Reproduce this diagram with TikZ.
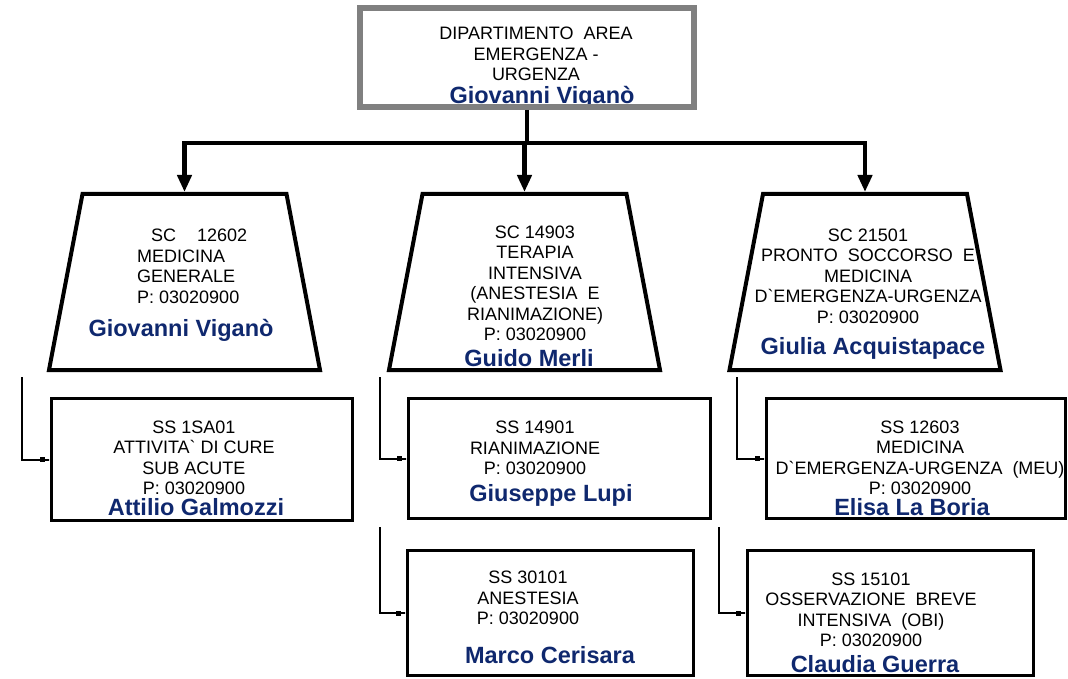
\documentclass[tikz,border=0pt]{standalone}
\usepackage{fontspec}
\setmainfont{Liberation Sans}[Ligatures=TeXOff]
\usetikzlibrary{arrows.meta}
\definecolor{navy}{RGB}{15,40,110}
\definecolor{boxgray}{RGB}{128,128,128}
\begin{document}
\begin{tikzpicture}[x=1pt,y=-1pt,
  txt/.style={inner sep=0pt, font=\fontsize{18}{20.5}\selectfont, align=center},
  who/.style={inner sep=0pt, font=\fontsize{23.5}{26}\selectfont\bfseries, text=navy, anchor=base},
  dept/.style={draw=boxgray, line width=6pt, minimum width=334pt, minimum height=99pt, inner sep=0pt},
  trapline/.style={draw, line width=4pt, line join=miter},
  sbox/.style={draw, line width=3pt, inner sep=0pt},
  busline/.style={line width=4.5pt},
  busarrow/.style={line width=4.5pt, -{Triangle[length=17pt,width=14pt]}},
  sub/.style={line width=2pt, -{Square[length=5pt,width=5pt] Rectangle[length=5pt,width=2pt]}}
]
\useasboundingbox (0,0) rectangle (1068,679);

% texts
\node[txt] (dtxt) at (536,54) {DIPARTIMENTO~ AREA\\EMERGENZA -\\URGENZA};
\node[who] (dname) at (542,103.4) {Giovanni Viganò};

\node[txt, align=left, anchor=west] (t1txt) at (137,266.5) {\hspace*{14pt}SC\hspace{21pt}12602\\MEDICINA\\GENERALE\\P: 03020900};
\node[who] (t1name) at (181,336.4) {Giovanni Viganò};

\node[txt] (t2txt) at (535,283.5) {SC 14903\\TERAPIA\\INTENSIVA\\(ANESTESIA~ E\\RIANIMAZIONE)\\P: 03020900};
\node[who] (t2name) at (529,366.4) {Guido Merli};

\node[txt] (t3txt) at (868,276) {SC 21501\\PRONTO~ SOCCORSO~ E\\MEDICINA\\D`EMERGENZA-URGENZA\\P: 03020900};
\node[who] (t3name) at (873,354.4) {Giulia Acquistapace};

\node[txt] (b1txt) at (194,458) {SS 1SA01\\ATTIVITA` DI CURE\\SUB ACUTE\\P: 03020900};
\node[who] (b1name) at (196,515.4) {Attilio Galmozzi};

\node[txt] (m1txt) at (535,448) {SS 14901\\RIANIMAZIONE\\P: 03020900};
\node[who] (m1name) at (551,501.4) {Giuseppe Lupi};

\node[txt] (m2txt) at (528,598) {SS 30101\\ANESTESIA\\P: 03020900};
\node[who] (m2name) at (550,663.4) {Marco Cerisara};

\node[txt] (r1txt) at (920,458) {SS 12603\\MEDICINA\\D`EMERGENZA-URGENZA~ (MEU)\\P: 03020900};
\node[who] (r1name) at (912,515.4) {Elisa La Boria};

\node[txt] (r2txt) at (871,610) {SS 15101\\OSSERVAZIONE~ BREVE\\INTENSIVA~ (OBI)\\P: 03020900};
\node[who] (r2name) at (875,672.4) {Claudia Guerra};

% shapes
\node[dept] (dept) at (527,57.5) {};
\draw[trapline] (82.5,194) -- (286.5,194) -- (320,370) -- (49,370) -- cycle;
\draw[trapline] (422.5,194) -- (626.5,194) -- (660,370) -- (389,370) -- cycle;
\draw[trapline] (763,194) -- (967,194) -- (1000.5,370) -- (729.5,370) -- cycle;
\coordinate (t1) at (184.5,192);
\coordinate (t2) at (524.5,192);
\coordinate (t3) at (865,192);

\node[sbox, minimum width=301pt, minimum height=122pt] (b1) at (202,459.5) {};
\node[sbox, minimum width=302pt, minimum height=120pt] (m1) at (559.5,458.5) {};
\node[sbox, minimum width=286pt, minimum height=125pt] (m2) at (550.5,613) {};
\node[sbox, minimum width=299pt, minimum height=120pt] (r1) at (916,458.5) {};
\node[sbox, minimum width=286pt, minimum height=125pt] (r2) at (890.5,613) {};

% top connectors
\coordinate (bus) at (527,143);
\draw[busline] (dept.south) -- (bus);
\draw[busarrow] (bus) -| (t1);
\draw[busarrow] (bus) -| (t2);
\draw[busarrow] (bus) -| (t3);

% sub connectors
\coordinate (lc) at (22,377);
\coordinate (mc1) at (380,377);
\coordinate (mc2) at (380,527);
\coordinate (rc1) at (737,377);
\coordinate (rc2) at (719,527);
\draw[sub] (lc) |- (b1.west);
\draw[sub] (mc1) |- (m1.west);
\draw[sub] (mc2) |- (m2.west);
\draw[sub] (rc1) |- (r1.west);
\draw[sub] (rc2) |- (r2.west);
\end{tikzpicture}
\end{document}
